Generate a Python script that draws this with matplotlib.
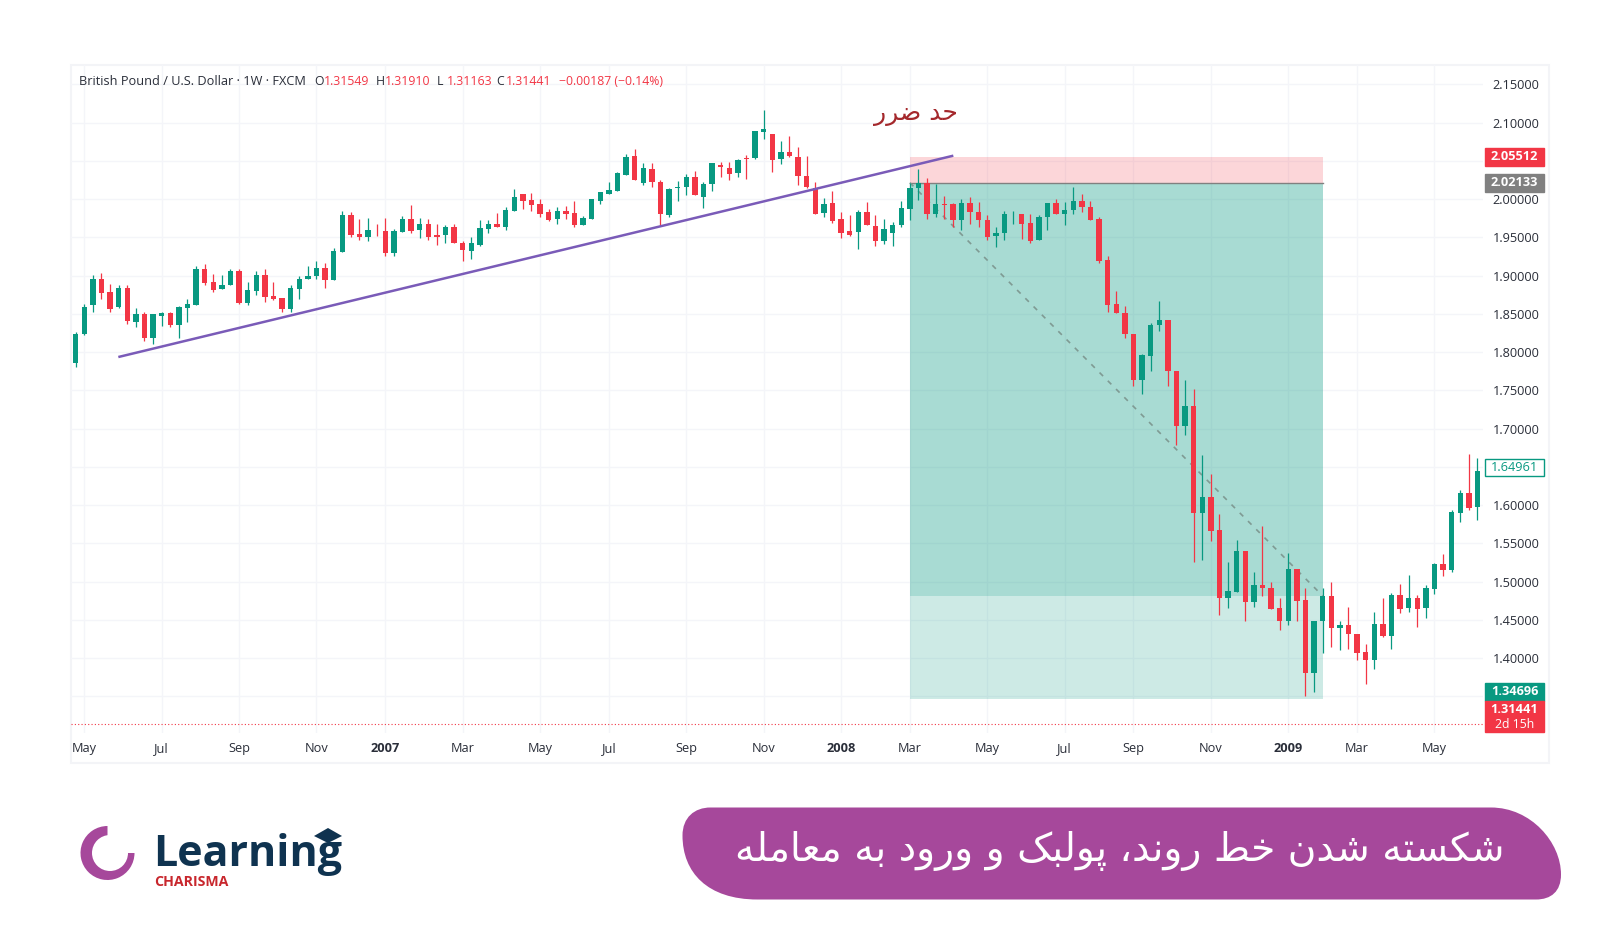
import matplotlib
matplotlib.use("Agg")
import matplotlib.pyplot as plt
from matplotlib.patches import Rectangle, PathPatch, Wedge, Circle, Polygon
from matplotlib.path import Path
import numpy as np

opens = [
    1.786, 1.824, 1.861, 1.896, 1.879, 1.859, 1.884, 1.839, 1.850, 1.819,
    1.847, 1.851, 1.836, 1.858, 1.862, 1.909, 1.891, 1.882, 1.887, 1.906,
    1.864, 1.880, 1.901, 1.873, 1.871, 1.856, 1.883, 1.896, 1.900, 1.910,
    1.894, 1.931, 1.979, 1.954, 1.950, 1.960, 1.958, 1.929, 1.957, 1.974,
    1.959, 1.967, 1.953, 1.953, 1.964, 1.943, 1.932, 1.940, 1.961, 1.968,
    1.964, 1.984, 2.006, 1.999, 1.993, 1.983, 1.974, 1.985, 1.982, 1.966,
    1.974, 1.998, 2.007, 2.011, 2.032, 2.056, 2.021, 2.039, 2.022, 1.979,
    2.014, 2.016, 2.029, 2.003, 2.020, 2.045, 2.041, 2.034, 2.054, 2.054,
    2.088, 2.085, 2.053, 2.061, 2.055, 2.030, 2.014, 1.982, 1.995, 1.974,
    1.958, 1.957, 1.983, 1.965, 1.945, 1.956, 1.966, 1.987, 2.014, 2.021,
    1.981, 1.993, 1.993, 1.972, 1.995, 1.983, 1.973, 1.952, 1.955, 1.980,
    1.980, 1.969, 1.946, 1.976, 1.995, 1.981, 1.986, 1.997, 1.990, 1.974,
    1.920, 1.863, 1.851, 1.823, 1.764, 1.795, 1.835, 1.842, 1.775, 1.703,
    1.730, 1.590, 1.610, 1.567, 1.479, 1.486, 1.540, 1.473, 1.495, 1.492,
    1.466, 1.449, 1.517, 1.476, 1.380, 1.448, 1.481, 1.439, 1.443, 1.432,
    1.408, 1.397, 1.445, 1.429, 1.483, 1.465, 1.478, 1.465, 1.490, 1.523,
    1.515, 1.590, 1.616, 1.597,
]
closes = [
    1.823, 1.859, 1.896, 1.877, 1.856, 1.884, 1.840, 1.850, 1.819, 1.850,
    1.851, 1.836, 1.859, 1.863, 1.909, 1.890, 1.881, 1.888, 1.906, 1.864,
    1.881, 1.901, 1.872, 1.870, 1.856, 1.884, 1.896, 1.900, 1.910, 1.894,
    1.932, 1.979, 1.953, 1.950, 1.960, 1.959, 1.929, 1.958, 1.974, 1.958,
    1.967, 1.950, 1.951, 1.964, 1.942, 1.933, 1.942, 1.962, 1.968, 1.964,
    1.986, 2.003, 1.998, 1.992, 1.981, 1.973, 1.985, 1.981, 1.966, 1.975,
    2.000, 2.009, 2.012, 2.034, 2.055, 2.025, 2.041, 2.022, 1.981, 2.013,
    2.016, 2.029, 2.005, 2.020, 2.047, 2.042, 2.033, 2.051, 2.053, 2.089,
    2.092, 2.051, 2.061, 2.056, 2.030, 2.016, 1.981, 1.993, 1.971, 1.956,
    1.953, 1.983, 1.966, 1.945, 1.961, 1.966, 1.988, 2.014, 2.021, 1.981,
    1.993, 1.992, 1.972, 1.995, 1.983, 1.973, 1.951, 1.955, 1.980, 1.981,
    1.968, 1.945, 1.976, 1.995, 1.981, 1.986, 1.997, 1.990, 1.973, 1.919,
    1.862, 1.851, 1.823, 1.764, 1.796, 1.836, 1.842, 1.775, 1.703, 1.730,
    1.590, 1.610, 1.566, 1.479, 1.487, 1.540, 1.473, 1.495, 1.491, 1.464,
    1.449, 1.517, 1.475, 1.380, 1.449, 1.481, 1.439, 1.443, 1.431, 1.407,
    1.397, 1.445, 1.429, 1.483, 1.464, 1.478, 1.464, 1.491, 1.523, 1.515,
    1.591, 1.616, 1.596, 1.645,
]
highs = [
    1.826, 1.863, 1.901, 1.903, 1.889, 1.888, 1.888, 1.857, 1.853, 1.850,
    1.853, 1.853, 1.860, 1.869, 1.913, 1.915, 1.902, 1.901, 1.909, 1.909,
    1.892, 1.906, 1.908, 1.891, 1.871, 1.887, 1.900, 1.913, 1.919, 1.916,
    1.936, 1.985, 1.983, 1.974, 1.975, 1.968, 1.975, 1.961, 1.978, 1.992,
    1.975, 1.974, 1.968, 1.966, 1.968, 1.945, 1.951, 1.973, 1.973, 1.982,
    1.989, 2.013, 2.006, 2.008, 2.000, 1.987, 1.989, 1.991, 1.998, 1.978,
    2.000, 2.009, 2.022, 2.036, 2.059, 2.065, 2.047, 2.047, 2.025, 2.014,
    2.023, 2.033, 2.037, 2.022, 2.047, 2.049, 2.049, 2.052, 2.058, 2.089,
    2.116, 2.085, 2.076, 2.083, 2.068, 2.056, 2.022, 2.002, 2.010, 1.983,
    1.979, 1.986, 1.996, 1.979, 1.974, 1.970, 1.997, 2.021, 2.039, 2.027,
    2.020, 2.004, 1.995, 2.000, 2.003, 1.996, 1.979, 1.964, 1.984, 1.984,
    1.981, 1.980, 1.979, 1.995, 2.000, 1.996, 2.016, 2.007, 1.997, 1.976,
    1.926, 1.880, 1.860, 1.824, 1.798, 1.838, 1.867, 1.842, 1.775, 1.763,
    1.752, 1.666, 1.640, 1.588, 1.525, 1.554, 1.540, 1.512, 1.573, 1.499,
    1.479, 1.537, 1.517, 1.491, 1.449, 1.491, 1.499, 1.449, 1.467, 1.432,
    1.419, 1.460, 1.478, 1.485, 1.497, 1.508, 1.483, 1.496, 1.524, 1.536,
    1.594, 1.620, 1.667, 1.662,
]
lows = [
    1.781, 1.822, 1.853, 1.870, 1.853, 1.858, 1.837, 1.833, 1.814, 1.810,
    1.834, 1.833, 1.818, 1.839, 1.861, 1.887, 1.879, 1.882, 1.887, 1.863,
    1.862, 1.875, 1.865, 1.868, 1.852, 1.853, 1.869, 1.896, 1.896, 1.884,
    1.894, 1.931, 1.951, 1.947, 1.945, 1.952, 1.926, 1.926, 1.957, 1.956,
    1.949, 1.946, 1.940, 1.943, 1.942, 1.919, 1.922, 1.939, 1.956, 1.964,
    1.960, 1.984, 1.987, 1.985, 1.977, 1.971, 1.968, 1.974, 1.963, 1.966,
    1.974, 1.994, 2.006, 2.011, 2.032, 2.025, 2.019, 2.016, 1.966, 1.976,
    1.997, 2.005, 2.005, 1.988, 2.010, 2.029, 2.025, 2.029, 2.026, 2.053,
    2.078, 2.036, 2.046, 2.055, 2.019, 2.015, 1.981, 1.976, 1.969, 1.949,
    1.952, 1.935, 1.966, 1.939, 1.941, 1.938, 1.963, 1.973, 1.999, 1.974,
    1.976, 1.974, 1.964, 1.960, 1.968, 1.963, 1.946, 1.937, 1.946, 1.968,
    1.948, 1.942, 1.946, 1.959, 1.980, 1.966, 1.981, 1.983, 1.973, 1.916,
    1.852, 1.851, 1.819, 1.755, 1.745, 1.775, 1.827, 1.756, 1.678, 1.692,
    1.526, 1.528, 1.553, 1.456, 1.465, 1.486, 1.448, 1.467, 1.481, 1.464,
    1.437, 1.443, 1.448, 1.351, 1.356, 1.406, 1.414, 1.410, 1.412, 1.397,
    1.366, 1.386, 1.428, 1.412, 1.459, 1.460, 1.440, 1.452, 1.484, 1.507,
    1.513, 1.578, 1.594, 1.581,
]

month_ticks = [1, 10, 19, 28, 36, 45, 54, 62, 71, 80, 89, 97, 106, 115, 123, 132, 141, 149, 158]
month_labels = ["May", "Jul", "Sep", "Nov", "2007", "Mar", "May", "Jul", "Sep", "Nov",
                "2008", "Mar", "May", "Jul", "Sep", "Nov", "2009", "Mar", "May"]
price_ticks = [1.35, 1.40, 1.45, 1.50, 1.55, 1.60, 1.65, 1.70, 1.75, 1.80, 1.85, 1.90,
               1.95, 2.00, 2.05, 2.10, 2.15]
# these three sit under a price tag on the scale
hidden_price_labels = [1.35, 1.65, 2.05]

# long position tool and trend line
stop_price = 2.05512
entry_price = 2.02133
reached_price = 1.4813
target_price = 1.34696
last_close = 1.31441
pos_start, pos_end = 97, 145
trend_x = [4.96, 102.05]
trend_y = [1.7935, 2.0567]

RED = "#f23645"
GREEN = "#089981"
GRID = "#f4f5f9"
INK = "#2a2e39"
PURPLE = "#a6489b"
NAVY = "#0f3350"
FONT = "Open Sans"

# base of each isolated / final / initial / medial block
ARABIC_BASE = {
    "ا": 0xFE8D, "ب": 0xFE8F, "پ": 0xFB56, "ت": 0xFE95, "ح": 0xFEA1, "خ": 0xFEA5,
    "د": 0xFEA9, "ر": 0xFEAD, "س": 0xFEB1, "ش": 0xFEB5, "ض": 0xFEBD, "ط": 0xFEC1,
    "ع": 0xFEC9, "ک": 0xFB8E, "ل": 0xFEDD, "م": 0xFEE1, "ن": 0xFEE5, "و": 0xFEED,
    "ه": 0xFEE9,
}
NO_FORWARD_JOIN = "ادرو"


def shape_fa(text):
    """matplotlib has no shaping or bidi, so pick the joined forms and reverse."""
    out = []
    for i, ch in enumerate(text):
        if ch not in ARABIC_BASE:
            out.append(ch)
            continue
        prev = text[i - 1] if i > 0 else " "
        nxt = text[i + 1] if i + 1 < len(text) else " "
        back = prev in ARABIC_BASE and prev not in NO_FORWARD_JOIN
        fwd = nxt in ARABIC_BASE and ch not in NO_FORWARD_JOIN
        form = 3 if back and fwd else 1 if back else 2 if fwd else 0
        out.append(chr(ARABIC_BASE[ch] + form))
    return "".join(reversed(out))


def pixel_layer(zorder):
    layer = fig.add_axes([0, 0, 1, 1], zorder=zorder)
    layer.set_xlim(0, 1621)
    layer.set_ylim(939, 0)
    layer.axis("off")
    return layer


fig = plt.figure(figsize=(16.21, 9.39), dpi=100, facecolor="white")

# page layer for the panel, banner and logo, top layer for text over the grid
page = pixel_layer(0)
top = pixel_layer(2)
page.add_patch(Rectangle((71, 65), 1478, 698, fc="white", ec="#f3f4f7", lw=1.5))

# chart axes, limits set so the price scale lands where it does in the reference
ax = fig.add_axes([71 / 1621, 1 - 733 / 939, 1412 / 1621, 668 / 939], zorder=1)
ax.patch.set_alpha(0)
ax.set_xlim(-0.543, 163.64)
ax.set_ylim(1.30203, 2.17523)
for spine in ax.spines.values():
    spine.set_visible(False)

ax.set_xticks(month_ticks)
ax.set_xticklabels(month_labels, fontsize=9.2, color=INK, family=FONT)
for lbl in ax.get_xticklabels():
    if lbl.get_text().isdigit():
        lbl.set_fontweight("bold")
ax.yaxis.tick_right()
ax.set_yticks(price_ticks)
ax.set_yticklabels(["" if p in hidden_price_labels else f"{p:.5f}" for p in price_ticks],
                   fontsize=9.2, color=INK, family=FONT)
ax.tick_params(axis="both", length=0)
ax.tick_params(axis="x", pad=6.5)
ax.tick_params(axis="y", pad=7)
ax.grid(True, color=GRID, linewidth=1)
ax.set_axisbelow(True)

# position zones
width = pos_end - pos_start
ax.add_patch(Rectangle((pos_start, entry_price), width, stop_price - entry_price,
                       fc=RED, alpha=0.2, lw=0, zorder=1.5))
ax.add_patch(Rectangle((pos_start, reached_price), width, entry_price - reached_price,
                       fc=GREEN, alpha=0.35, lw=0, zorder=1.5))
ax.add_patch(Rectangle((pos_start, target_price), width, reached_price - target_price,
                       fc=GREEN, alpha=0.2, lw=0, zorder=1.5))
ax.plot([pos_start, pos_end], [entry_price, entry_price], color="#808080", lw=1, zorder=1.6)
ax.plot([pos_start, pos_end], [entry_price, reached_price], color="#7f9a93", lw=1.2,
        dashes=(3, 4), zorder=1.6)

ax.axhline(last_close, color=RED, lw=0.8, ls=(0, (1, 2)), zorder=1.6)

# candles
xs = np.arange(len(opens))
o = np.array(opens)
c = np.array(closes)
colors = [GREEN if b >= a else RED for a, b in zip(o, c)]
ax.vlines(xs, lows, highs, colors=colors, linewidth=0.9, zorder=3)
ax.bar(xs, np.abs(c - o), bottom=np.minimum(o, c), width=0.62, color=colors, lw=0, zorder=3)

ax.plot(trend_x, trend_y, color="#7a5bb8", lw=1.8, zorder=4, solid_capstyle="butt")

# price tags on the scale
per_px = 1 / 765
tag_tf = ax.get_yaxis_transform()
tag_x0 = (1485 - 71) / 1412
tag_w = 59 / 1412
tag_cx = tag_x0 + tag_w / 2


def price_tag(center, height_px, fc, text, color="white", ec=None, weight="normal"):
    h = height_px * per_px
    ax.add_patch(Rectangle((tag_x0, center - h / 2), tag_w, h, transform=tag_tf, fc=fc,
                           ec=ec if ec else fc, lw=1, clip_on=False, zorder=5))
    ax.text(tag_cx, center, text, transform=tag_tf, ha="center", va="center", fontsize=9.2,
            color=color, family=FONT, weight=weight, clip_on=False, zorder=6)


price_tag(stop_price, 18, RED, "2.05512", weight="bold")
price_tag(entry_price, 18, "#808080", "2.02133", weight="bold")
price_tag(1.6496, 17, "white", "1.64961", color=GREEN, ec=GREEN)
price_tag(1.3560, 18, GREEN, "1.34696", weight="bold")
price_tag(1.3239, 31, RED, "")
ax.text(tag_cx, 1.3322, "1.31441", transform=tag_tf, ha="center", va="center", fontsize=9.2,
        color="white", family=FONT, weight="bold", zorder=6)
ax.text(tag_cx, 1.3125, "2d 15h", transform=tag_tf, ha="center", va="center", fontsize=8.8,
        color="white", family=FONT, zorder=6)

# header line
head_y = 81.5
top.text(79, head_y, "British Pound / U.S. Dollar · 1W · FXCM", fontsize=9.2, color=INK,
         family=FONT, va="center")
for x, letter, value in [(314, "O", "1.31549"), (375.7, "H", "1.31910"),
                         (437, "L", "1.31163"), (496.7, "C", "1.31441")]:
    top.text(x, head_y, letter, fontsize=8.8, color=INK, family=FONT, va="center")
    top.text(x + 9.5, head_y, value, fontsize=8.8, color=RED, family=FONT, va="center")
top.text(559, head_y, "−0.00187 (−0.14%)", fontsize=8.8, color=RED, family=FONT, va="center")

# stop loss note
top.text(916, 114, shape_fa("حد ضرر"), fontsize=18, color="#a4282c", ha="center",
         va="center", family="DejaVu Sans")

# banner
L, R, T, B = 682.5, 1561, 807.5, 899.5
verts = [(L + 28, T), (R - 70, T),
         (R - 30, T), (R, T + 35), (R, B - 25),
         (R, B - 8), (R - 10, B), (R - 25, B),
         (L + 75, B),
         (L + 25, B), (L, T + 65), (L, T + 28),
         (L, T + 10), (L + 12, T), (L + 28, T)]
codes = [Path.MOVETO, Path.LINETO,
         Path.CURVE4, Path.CURVE4, Path.CURVE4,
         Path.CURVE4, Path.CURVE4, Path.CURVE4,
         Path.LINETO,
         Path.CURVE4, Path.CURVE4, Path.CURVE4,
         Path.CURVE4, Path.CURVE4, Path.CURVE4]
page.add_patch(PathPatch(Path(verts, codes), fc=PURPLE, lw=0))
page.text(1120, 851, shape_fa("شکسته شدن خط روند، پولبک و ورود به معامله"), fontsize=28.2,
          color="white", ha="center", va="center", family="DejaVu Sans")

# logo
page.add_patch(Wedge((107.5, 853), 27, 0, 270, fc=PURPLE, lw=0))
page.add_patch(Circle((110, 853), 18, fc="white", lw=0))
page.text(153, 866, "Learning", fontsize=31, color=NAVY, family=FONT, weight="bold",
          va="baseline")
page.text(154, 882, "CHARISMA", fontsize=10.2, color="#c8272d", family=FONT, weight="bold",
          va="center")
page.add_patch(Polygon([(314, 836), (328, 828), (342, 836), (328, 843)], fc=NAVY, lw=0, zorder=3))

fig.savefig("out.png", dpi=100)
plt.close(fig)
